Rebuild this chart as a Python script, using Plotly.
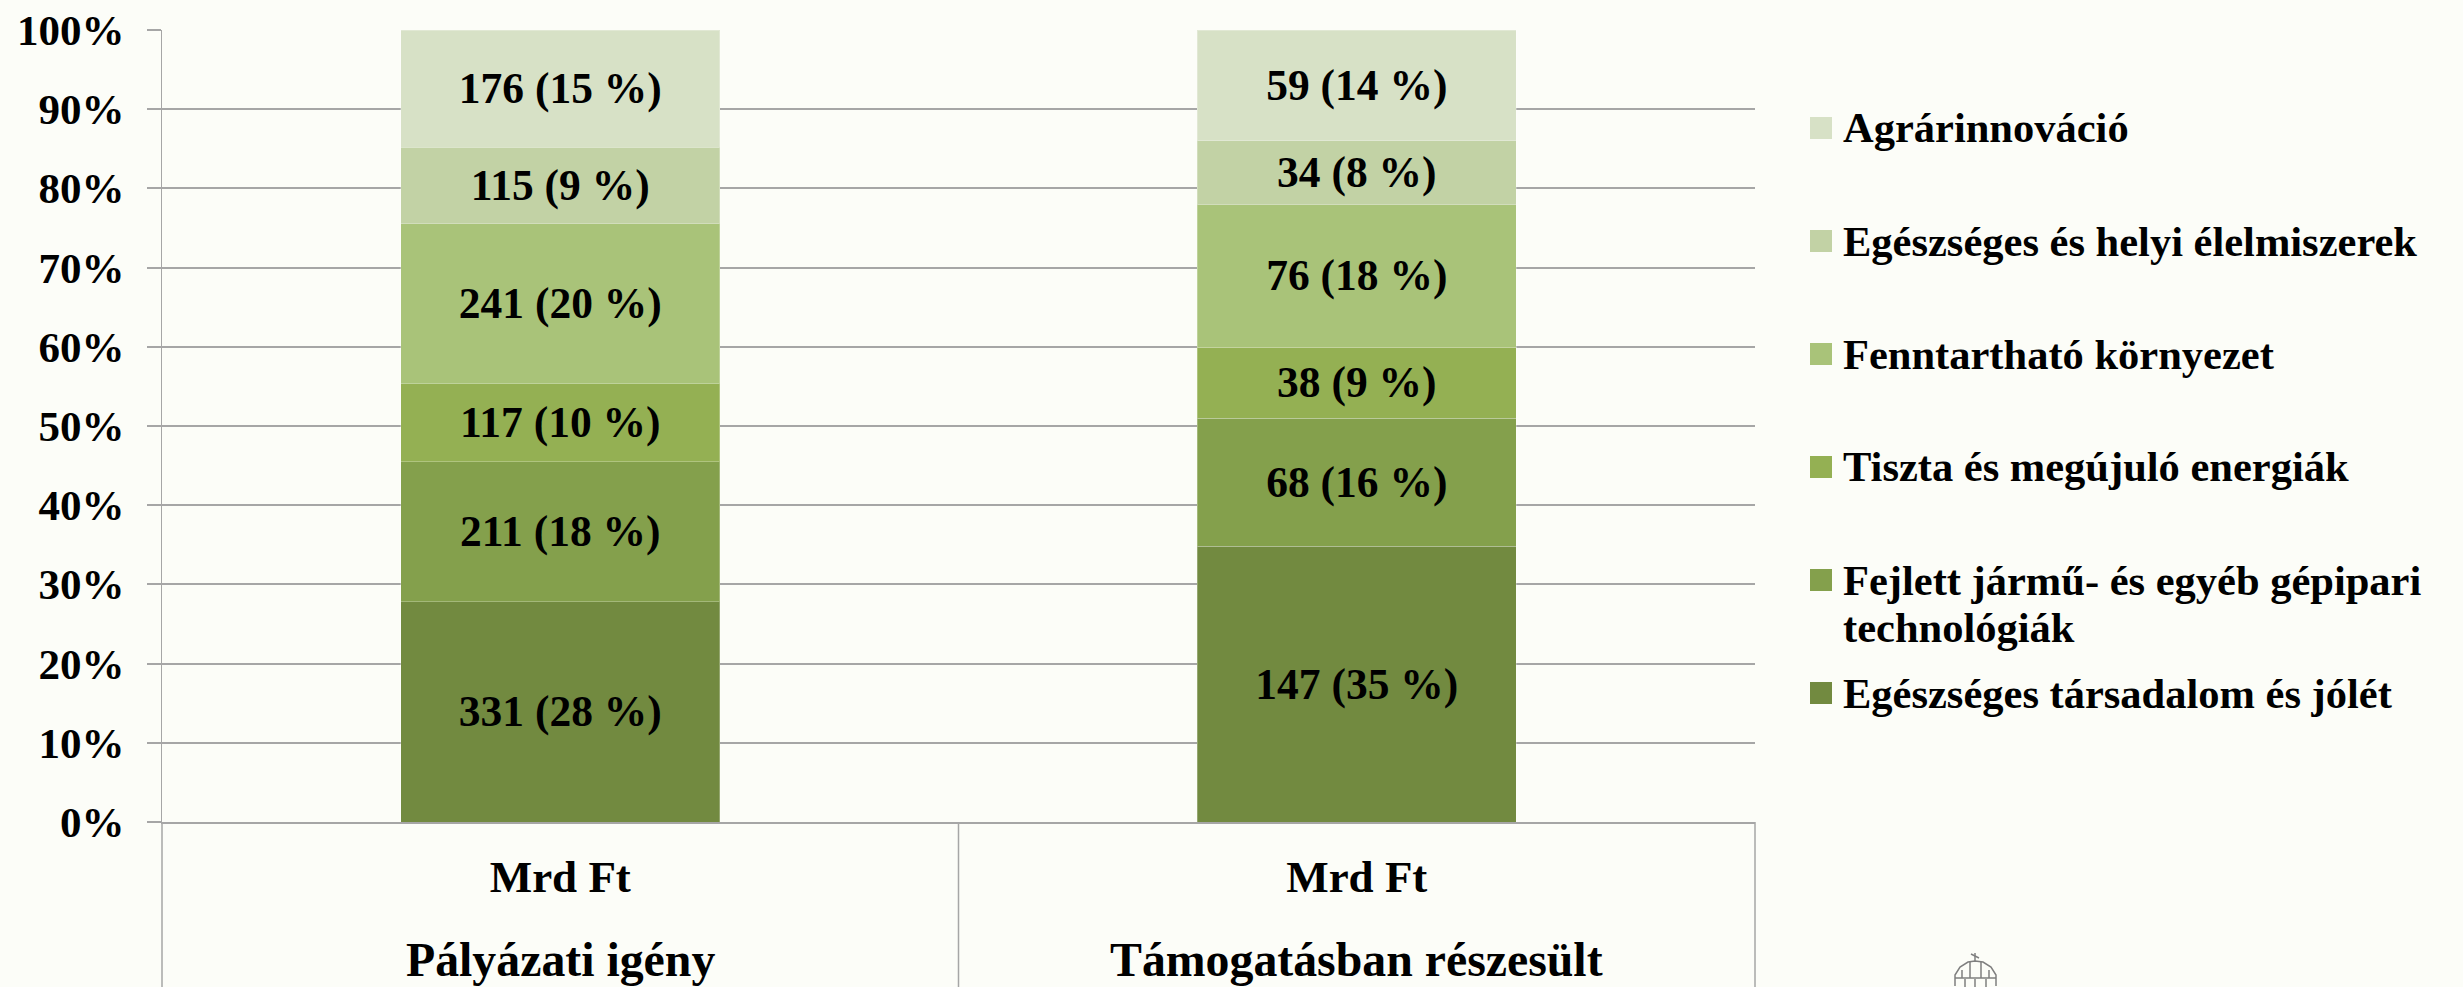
import plotly.graph_objects as go

categories = ["Mrd Ft", "Mrd Ft "]
groups = ["Pályázati igény", "Támogatásban részesült"]
series_names = ["Egészséges társadalom és jólét", "Fejlett jármű- és egyéb gépipari<br>technológiák",
                "Tiszta és megújuló energiák", "Fenntartható környezet",
                "Egészséges és helyi élelmiszerek", "Agrárinnováció"]
values_a = [331, 211, 117, 241, 115, 176]
values_b = [147, 68, 38, 76, 34, 59]
pct_a = [28, 18, 10, 20, 9, 15]
pct_b = [35, 16, 9, 18, 8, 14]
colors = ["#728A40", "#84A04C", "#94B053", "#A9C379", "#C2D2A5", "#D7E1C6"]
tick_vals = [0, 10, 20, 30, 40, 50, 60, 70, 80, 90, 100]
tick_text = [f"{v}%" for v in tick_vals]

W, H = 2463, 987
L, R, T, B = 162, 1755, 30, 822
FONT = "Liberation Serif"
BG = "#FCFDF8"
GRID = "#A6A6A6"

def fx(x): return (x - L) / (R - L)
def fy(y): return (B - y) / (B - T)

fig = go.Figure()
for i, name in enumerate(series_names):
    fig.add_trace(go.Bar(
        x=categories, y=[values_a[i], values_b[i]], name=name.replace("<br>", " "),
        marker=dict(color=colors[i], line=dict(color="rgba(255,255,255,0.25)", width=1)),
        text=[f"<b>{values_a[i]} ({pct_a[i]} %)</b>", f"<b>{values_b[i]} ({pct_b[i]} %)</b>"],
        textposition="inside", insidetextanchor="middle", textangle=0,
        insidetextfont=dict(family=FONT, size=43.5, color="#000000"),
        showlegend=False, cliponaxis=False))

shapes, annotations = [], []
for xp in (L, (L + R) / 2, R):
    shapes.append(dict(type="line", xref="paper", yref="paper", x0=fx(xp), x1=fx(xp),
                       y0=0, y1=fy(H), line=dict(color=GRID, width=1.5)))
for i, g in enumerate(groups):
    annotations.append(dict(x=categories[i], xref="x", y=fy(959), yref="paper",
                            text=f"<b>{g}</b>", showarrow=False, yanchor="middle",
                            font=dict(family=FONT, size=47.8, color="#000000")))
leg_y = [693, 580, 467, 354, 241, 128]
for i, name in enumerate(series_names):
    y = leg_y[i]
    shapes.append(dict(type="rect", xref="paper", yref="paper",
                       x0=fx(1810), x1=fx(1832), y0=fy(y + 11), y1=fy(y - 11),
                       fillcolor=colors[i], line=dict(width=0)))
    for j, line in enumerate(name.split("<br>")):
        annotations.append(dict(x=fx(1841), xref="paper", y=fy(y + 47 * j), yref="paper",
                                yanchor="middle", xanchor="left", align="left",
                                text=f"<b>{line}</b>", showarrow=False,
                                font=dict(family=FONT, size=42.5, color="#000000")))

# small dome emblem, lower right
def P(pts):
    return " ".join(f"{c} {fx(x):.5f} {fy(y):.5f}" for c, x, y in pts)
logo = dict(color="#7F7F7F", width=1.5)
paths = [
    [("M", 1955, 986), ("L", 1955, 975), ("L", 1960, 967), ("L", 1968, 962), ("L", 1975, 961),
     ("L", 1983, 962), ("L", 1991, 967), ("L", 1996, 975), ("L", 1996, 986)],
    [("M", 1955, 978), ("L", 1996, 978)],
    [("M", 1975, 961), ("L", 1975, 953)],
    [("M", 1971, 954), ("L", 1979, 958)],
    [("M", 1970, 962), ("L", 1970, 978)],
    [("M", 1981, 962), ("L", 1981, 978)],
    [("M", 1962, 978), ("L", 1962, 970)],
    [("M", 1989, 978), ("L", 1989, 970)],
    [("M", 1965, 979), ("L", 1965, 987)],
    [("M", 1975, 979), ("L", 1975, 987)],
    [("M", 1986, 979), ("L", 1986, 987)],
]
for p in paths:
    shapes.append(dict(type="path", xref="paper", yref="paper", path=P(p), line=logo))

fig.update_layout(
    width=W, height=H, barmode="stack", barnorm="percent", bargap=0.6,
    paper_bgcolor=BG, plot_bgcolor=BG,
    margin=dict(l=L, r=W - R, t=T, b=H - B),
    font=dict(family=FONT, color="#000000"),
    shapes=shapes, annotations=annotations,
    xaxis=dict(type="category", automargin=False, showgrid=False, showline=True, linecolor=GRID, linewidth=2,
               ticks="", tickvals=categories, ticktext=["<b>Mrd Ft</b>", "<b>Mrd Ft</b>"],
               tickfont=dict(family=FONT, size=45, color="#000000"), ticklabelstandoff=14),
    yaxis=dict(range=[0, 100], automargin=False, tickvals=tick_vals, ticktext=[f"<b>{t}</b>" for t in tick_text],
               tickfont=dict(family=FONT, size=43, color="#000000"), ticklabelstandoff=14,
               showgrid=True, gridcolor=GRID, gridwidth=1.5, ticks="outside", ticklen=14, tickwidth=1.5,
               tickcolor=GRID, zeroline=False, showline=True, linecolor=GRID, linewidth=1),
)
fig.write_html("out.html", config=dict(displayModeBar=False),
               post_script=f"document.body.style.margin='0';document.documentElement.style.background='{BG}';document.body.style.background='{BG}';")
